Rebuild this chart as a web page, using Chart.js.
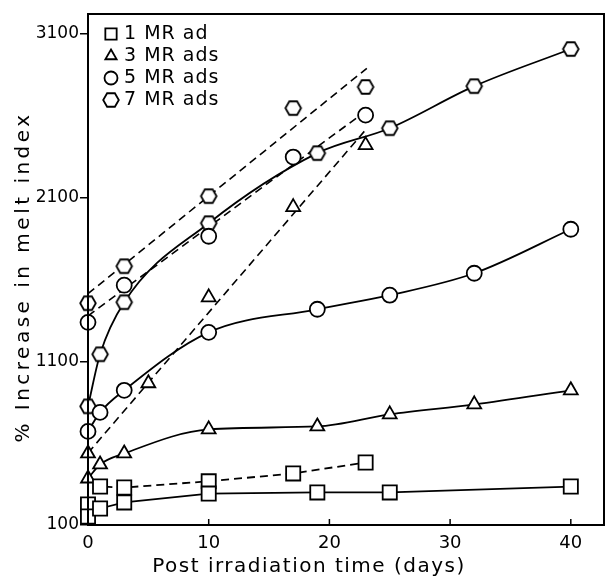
<!DOCTYPE html>
<html lang="en">
<head>
    <meta charset="UTF-8">
    <title>Melt index vs post irradiation time</title>
    <style>
        html, body { margin: 0; padding: 0; background: #fff; overflow: hidden; }
        #wrap { width: 609px; height: 582px; }
        canvas { display: block; }
    </style>
    <script src="https://cdn.jsdelivr.net/npm/chart.js"></script>
</head>
<body>
    <div id="wrap"><canvas id="meltChart" width="609" height="582"></canvas></div>

    <script>
        // values
        const xTicks = [0, 10, 20, 30, 40];
        const yTicks = [100, 1100, 2100, 3100];
        const legendLabels = ['1 MR ad', '3 MR ads', '5 MR ads', '7 MR ads'];

        // 1 MR
        const mr1Days = [0, 1, 3, 10, 19, 25, 40];
        const mr1Vals = [152, 201, 238, 292, 299, 299, 335];
        const mr1DashDays = [0, 1, 3, 10, 17, 23];
        const mr1DashVals = [225, 335, 329, 367, 415, 482];

        // 3 MR
        const mr3Days = [0, 1, 3, 10, 19, 25, 32, 40];
        const mr3Vals = [384, 470, 537, 684, 702, 776, 837, 923];
        const mr3DashDays = [0, 5, 10, 17, 23];
        const mr3DashVals = [537, 966, 1491, 2042, 2421];
        const mr3FitDays = [0, 23.1];
        const mr3FitVals = [540, 2523];

        // 5 MR
        const mr5Days = [0, 1, 3, 10, 19, 25, 32, 40];
        const mr5Vals = [672, 788, 923, 1277, 1418, 1504, 1638, 1907];
        const mr5DashDays = [0, 3, 10, 17, 23];
        const mr5DashVals = [1338, 1565, 1864, 2348, 2604];
        const mr5FitDays = [0, 22.8];
        const mr5FitVals = [1378, 2617];

        // 7 MR
        const mr7Days = [0, 1, 3, 10, 19, 25, 32, 40];
        const mr7Vals = [825, 1143, 1461, 1944, 2372, 2524, 2781, 3008];
        const mr7DashDays = [0, 3, 10, 17, 23];
        const mr7DashVals = [1455, 1681, 2109, 2647, 2776];
        const mr7FitDays = [0, 23.1];
        const mr7FitVals = [1513, 2890];

        const FONT = '"DejaVu Sans", sans-serif';
        const DASH = [8, 5];

        function pts(xs, ys) {
            return xs.map((x, i) => ({ x: x, y: ys[i] }));
        }

        // hexagon marker for 7 MR
        function hexMarker() {
            const c = document.createElement('canvas');
            c.width = 20; c.height = 20;
            const g = c.getContext('2d');
            g.beginPath();
            for (let i = 0; i < 6; i++) {
                const a = Math.PI / 3 * i;
                const px = 10 + 7.8 * Math.cos(a), py = 10 + 7.8 * Math.sin(a);
                if (i === 0) g.moveTo(px, py); else g.lineTo(px, py);
            }
            g.closePath();
            g.fillStyle = '#fff';
            g.fill();
            g.lineWidth = 1.8;
            g.strokeStyle = '#000';
            g.stroke();
            return c;
        }
        const hex = hexMarker();

        function marks(style, radius) {
            return {
                pointStyle: style,
                pointRadius: radius,
                pointBackgroundColor: '#fff',
                pointBorderColor: '#000',
                pointBorderWidth: 1.8,
                borderColor: '#000',
                borderWidth: 1.8,
                clip: false
            };
        }
        const fitLine = {
            pointRadius: 0, borderColor: '#000', borderWidth: 1.6,
            borderDash: DASH, clip: false
        };

        const datasets = [
            Object.assign({ data: pts(mr1Days, mr1Vals) }, marks('rect', 10)),
            Object.assign({ data: pts(mr1DashDays, mr1DashVals), borderDash: DASH }, marks('rect', 10)),
            Object.assign({ data: pts(mr3Days, mr3Vals), cubicInterpolationMode: 'monotone' }, marks('triangle', 8)),
            Object.assign({ data: pts(mr3DashDays, mr3DashVals), showLine: false }, marks('triangle', 8)),
            Object.assign({ data: pts(mr3FitDays, mr3FitVals) }, fitLine),
            Object.assign({ data: pts(mr5Days, mr5Vals), cubicInterpolationMode: 'monotone' }, marks('circle', 7.5)),
            Object.assign({ data: pts(mr5DashDays, mr5DashVals), showLine: false }, marks('circle', 7.5)),
            Object.assign({ data: pts(mr5FitDays, mr5FitVals) }, fitLine),
            Object.assign({ data: pts(mr7Days, mr7Vals), cubicInterpolationMode: 'monotone' }, marks(hex, 8)),
            Object.assign({ data: pts(mr7DashDays, mr7DashVals), showLine: false }, marks(hex, 8)),
            Object.assign({ data: pts(mr7FitDays, mr7FitVals) }, fitLine)
        ];
        // fit lines go under the markers
        datasets.forEach(d => { d.order = d.pointRadius === 0 ? 1 : 0; });

        const legendStyles = ['rect', 'triangle', 'circle', hex];

        const frame = {
            id: 'frame',
            afterDraw(chart) {
                const ctx = chart.ctx;
                const a = chart.chartArea;
                const xs = chart.scales.x;
                ctx.save();
                ctx.strokeStyle = '#000';
                ctx.lineWidth = 2;
                ctx.strokeRect(a.left, a.top, a.right - a.left, a.bottom - a.top);
                // inward ticks on x
                ctx.lineWidth = 1.5;
                xTicks.forEach(v => {
                    const px = xs.getPixelForValue(v);
                    ctx.beginPath();
                    ctx.moveTo(px, a.bottom);
                    ctx.lineTo(px, a.bottom - 6);
                    ctx.stroke();
                });
                // axis titles
                ctx.fillStyle = '#000';
                ctx.font = '20px ' + FONT;
                ctx.textAlign = 'center';
                ctx.textBaseline = 'middle';
                ctx.letterSpacing = '1.5px';
                ctx.fillText('Post irradiation time (days)', 309, 567);
                ctx.save();
                ctx.letterSpacing = '3.5px';
                ctx.translate(24, 277);
                ctx.rotate(-Math.PI / 2);
                ctx.fillText('% Increase in melt index', 0, 0);
                ctx.restore();
                // legend
                ctx.font = '19px ' + FONT;
                ctx.letterSpacing = '1px';
                ctx.textAlign = 'left';
                legendLabels.forEach((label, i) => {
                    const y = 34 + i * 22;
                    const st = legendStyles[i];
                    if (typeof st === 'string') {
                        ctx.fillStyle = '#fff';
                        ctx.lineWidth = 1.8;
                        Chart.helpers.drawPoint(ctx, { pointStyle: st, rotation: 0, borderWidth: 1.8, radius: st === 'rect' ? 8 : 6.5 }, 111, y);
                    } else {
                        ctx.drawImage(st, 101, y - 10);
                    }
                    ctx.fillStyle = '#000';
                    ctx.fillText(label, 124, y);
                });
                ctx.restore();
            }
        };

        new Chart(document.getElementById('meltChart'), {
            type: 'line',
            data: { datasets: datasets },
            options: {
                responsive: false,
                animation: false,
                layout: { autoPadding: false, padding: { top: 14, right: 5, left: 0, bottom: 0 } },
                plugins: { legend: { display: false }, tooltip: { enabled: false } },
                scales: {
                    x: {
                        type: 'linear',
                        min: 0,
                        max: 42.75,
                        afterBuildTicks: s => { s.ticks = xTicks.map(v => ({ value: v })); },
                        afterFit: s => { s.height = 57; s.paddingLeft = 0; s.paddingRight = 0; },
                        grid: { display: false, drawTicks: false },
                        border: { color: '#000', width: 2 },
                        ticks: { color: '#000', padding: 8, font: { family: FONT, size: 18 } }
                    },
                    y: {
                        type: 'linear',
                        min: 100,
                        max: 3222,
                        afterBuildTicks: s => { s.ticks = yTicks.map(v => ({ value: v })); },
                        afterFit: s => { s.width = 88; },
                        grid: { drawOnChartArea: false, tickLength: 8, color: '#000', lineWidth: 1.5 },
                        border: { color: '#000', width: 2 },
                        ticks: {
                            color: '#000', padding: 1, font: { family: FONT, size: 17 },
                            callback: v => String(v)
                        }
                    }
                }
            },
            plugins: [frame]
        });
    </script>
</body>
</html>
